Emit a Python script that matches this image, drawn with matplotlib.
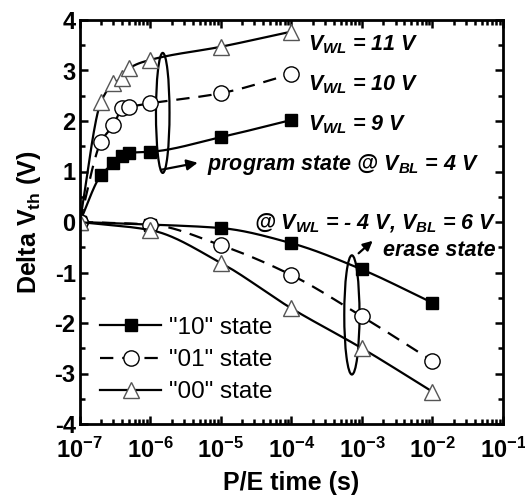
import numpy as np
import matplotlib
matplotlib.use("Agg")
import matplotlib.pyplot as plt
from matplotlib.patches import Ellipse
from matplotlib.lines import Line2D

plt.rcParams['font.family'] = ['Liberation Sans', 'DejaVu Sans']
plt.rcParams['mathtext.fontset'] = 'custom'
plt.rcParams['mathtext.rm'] = 'Liberation Sans:bold'
plt.rcParams['mathtext.it'] = 'Liberation Sans:bold:italic'
plt.rcParams['mathtext.bf'] = 'Liberation Sans:bold'

# ---- data ----
prog_t = [1e-7, 2e-7, 3e-7, 4e-7, 5e-7, 1e-6, 1e-5, 1e-4]
prog_10 = [0.0, 0.93, 1.16, 1.31, 1.37, 1.39, 1.68, 2.02]
prog_01 = [0.0, 1.59, 1.92, 2.25, 2.28, 2.35, 2.55, 2.93]
prog_00 = [0.0, 2.38, 2.75, 2.85, 3.04, 3.21, 3.47, 3.77]

erase_t = [1e-7, 1e-6, 1e-5, 1e-4, 1e-3, 1e-2]
erase_10 = [0.0, -0.05, -0.12, -0.42, -0.94, -1.60]
erase_01 = [0.0, -0.05, -0.46, -1.05, -1.87, -2.75]
erase_00 = [0.0, -0.16, -0.81, -1.71, -2.50, -3.36]

labels = ['"10" state', '"01" state', '"00" state']
xticks = [1e-7, 1e-6, 1e-5, 1e-4, 1e-3, 1e-2, 1e-1]
xticklabels = [r'$\mathbf{10^{-7}}$', r'$\mathbf{10^{-6}}$', r'$\mathbf{10^{-5}}$',
               r'$\mathbf{10^{-4}}$', r'$\mathbf{10^{-3}}$', r'$\mathbf{10^{-2}}$',
               r'$\mathbf{10^{-1}}$']
yticks = [-4, -3, -2, -1, 0, 1, 2, 3, 4]


def pchip(x, y, xn):
    x = np.asarray(x, float); y = np.asarray(y, float)
    h = np.diff(x); d = np.diff(y) / h
    n = len(x); m = np.zeros(n)
    for k in range(1, n - 1):
        if d[k - 1] * d[k] > 0:
            w1 = 2 * h[k] + h[k - 1]; w2 = h[k] + 2 * h[k - 1]
            m[k] = (w1 + w2) / (w1 / d[k - 1] + w2 / d[k])
    m[0] = d[0]; m[-1] = d[-1]
    out = np.empty_like(xn)
    for i, xv in enumerate(xn):
        k = min(max(np.searchsorted(x, xv) - 1, 0), n - 2)
        t = (xv - x[k]) / h[k]
        h00 = 2*t**3 - 3*t**2 + 1; h10 = t**3 - 2*t**2 + t
        h01 = -2*t**3 + 3*t**2; h11 = t**3 - t**2
        out[i] = h00*y[k] + h10*h[k]*m[k] + h01*y[k+1] + h11*h[k]*m[k+1]
    return out


def smooth(ax, t, v, ls):
    lx = np.log10(t)
    xn = np.linspace(lx[0], lx[-1], 300)
    ax.plot(10**xn, pchip(lx, v, xn), color='black', lw=1.6, ls=ls)


fig = plt.figure(figsize=(5.25, 5.0), dpi=100)
ax = fig.add_axes([0.152, 0.152, 0.806, 0.808])

styles = [('-', 's', 'black'), ((0, (6, 4)), 'o', 'white'), ('-', '^', 'white')]
for ser_t, sers in [(prog_t, [prog_10, prog_01, prog_00]),
                    (erase_t, [erase_10, erase_01, erase_00])]:
    for vals, (ls, mk, fc) in zip(sers, styles):
        smooth(ax, ser_t, vals, ls)
        ax.plot(ser_t, vals, ls='none', marker=mk, ms=11 if mk != 's' else 9,
                mfc=fc, mec='black' if mk != '^' else '#555555', mew=1.0)

ax.set_xscale('log')
ax.set_xlim(1e-7, 1e-1)
ax.set_ylim(-4, 4)
ax.set_xticks(xticks)
ax.set_xticklabels(xticklabels)
ax.set_yticks(yticks)
ax.set_yticklabels([str(v) for v in yticks])
ax.yaxis.set_minor_locator(matplotlib.ticker.MultipleLocator(0.5))
ax.xaxis.set_minor_locator(matplotlib.ticker.LogLocator(base=10, subs=np.arange(2, 10), numticks=20))
ax.xaxis.set_minor_formatter(matplotlib.ticker.NullFormatter())
ax.tick_params(which='both', direction='in', top=True, right=True, width=1.8)
ax.tick_params(which='major', length=6, labelsize=17)
ax.tick_params(axis='x', which='major', pad=10)
ax.tick_params(axis='y', which='major', pad=3)
ax.tick_params(which='minor', length=3.5)
for lab in ax.get_yticklabels():
    lab.set_fontweight('bold')
for sp in ax.spines.values():
    sp.set_linewidth(2)

ax.set_xlabel('P/E time (s)', fontsize=18, fontweight='bold', labelpad=6)
ax.set_ylabel(r'Delta V$_{\mathrm{th}}$ (V)', fontsize=18, fontweight='bold', labelpad=8)

tk = dict(fontsize=15.5, fontweight='bold', style='italic', transform=ax.transAxes)
ax.text(0.539, 0.938, r'$\mathit{V_{WL}}$ = 11 V', va='center', ha='left', **tk)
ax.text(0.539, 0.840, r'$\mathit{V_{WL}}$ = 10 V', va='center', ha='left', **tk)
ax.text(0.539, 0.741, r'$\mathit{V_{WL}}$ = 9 V', va='center', ha='left', **tk)
ax.text(0.30, 0.642, r'program state @ $\mathit{V_{BL}}$ = 4 V', va='center', ha='left', **tk)
ax.text(0.985, 0.497, r'@ $\mathit{V_{WL}}$ = - 4 V, $\mathit{V_{BL}}$ = 6 V', va='center', ha='right', **tk)
ax.text(0.982, 0.430, 'erase state', va='center', ha='right', **tk)

# ellipses and arrows (axes coords)
ax.add_patch(Ellipse((0.196, 0.770), 0.032, 0.297, transform=ax.transAxes,
                     fill=False, lw=1.6, color='black'))
ax.annotate('', xy=(0.285, 0.648), xytext=(0.186, 0.628), xycoords='axes fraction',
            arrowprops=dict(arrowstyle='-|>', color='black', lw=1.6, mutation_scale=16))
ax.add_patch(Ellipse((0.643, 0.270), 0.036, 0.295, transform=ax.transAxes,
                     fill=False, lw=1.6, color='black'))
ax.annotate('', xy=(0.697, 0.458), xytext=(0.654, 0.418), xycoords='axes fraction',
            arrowprops=dict(arrowstyle='-|>', color='black', lw=1.6, mutation_scale=14))

handles = []
for lab, (ls, mk, fc) in zip(labels, styles):
    handles.append(Line2D([], [], color='black', ls=ls, lw=1.6, marker=mk,
                          ms=11 if mk != 's' else 9, mfc=fc,
                          mec='black' if mk != '^' else '#555555'))
ax.legend(handles, labels, loc='lower left', bbox_to_anchor=(0.0, 0.0),
          frameon=False, fontsize=17.5, handlelength=2.5, handletextpad=0.3,
          labelspacing=0.42, borderaxespad=0.45)

fig.savefig('out.png', dpi=100)
